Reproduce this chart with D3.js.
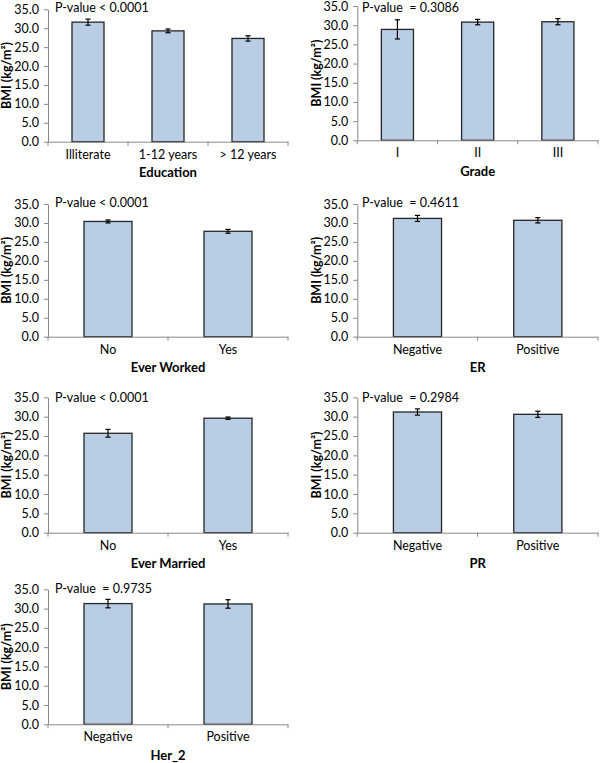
<!DOCTYPE html>
<html><head><meta charset="utf-8">
<script src="https://cdn.jsdelivr.net/npm/d3@7"></script>
<style>body{margin:0;background:#fff}svg{display:block}text{font-family:Lato,"Open Sans",sans-serif;fill:#000}</style>
</head><body>
<script>
// ---- data ----
const titles = ["Education","Grade","Ever Worked","ER","Ever Married","PR","Her_2"];
const pValues = ["P-value < 0.0001","P-value  = 0.3086","P-value < 0.0001","P-value  = 0.4611","P-value < 0.0001","P-value  = 0.2984","P-value  = 0.9735"];
const categories = [
  ["Illiterate","1-12 years","> 12 years"],
  ["I","II","III"],
  ["No","Yes"],
  ["Negative","Positive"],
  ["No","Yes"],
  ["Negative","Positive"],
  ["Negative","Positive"]
];
const means = [
  [31.6,29.3,27.3],
  [28.9,30.8,30.9],
  [30.4,27.8],
  [31.2,30.7],
  [25.7,29.6],
  [31.2,30.6],
  [31.3,31.2]
];
const errors = [
  [0.8,0.5,0.7],
  [2.5,0.7,0.8],
  [0.4,0.5],
  [0.8,0.7],
  [1.0,0.3],
  [0.8,0.8],
  [1.1,1.1]
];
const yTicks = [0,5,10,15,20,25,30,35];
const yTitle = "BMI (kg/m²)";

// ---- layout ----
const layout = [
  {l:48,r:288,t:9.3,b:141.7,px:55,py:12},
  {l:357.3,r:598,t:6,b:140.3,px:362,py:12},
  {l:48,r:288,t:204,b:336.7,px:55,py:207},
  {l:357.3,r:598,t:204,b:336.7,px:362,py:207},
  {l:48,r:288,t:397.3,b:532.7,px:55,py:402},
  {l:357.3,r:598,t:397.3,b:532.7,px:362,py:402},
  {l:48,r:288,t:589.3,b:724.3,px:55,py:593}
];

const svg = d3.select("body").append("svg").attr("width",600).attr("height",763);
const fs = 12.5;

titles.forEach((title,i)=>{
  const L = layout[i];
  const g = svg.append("g");
  const xc = d3.scaleBand().domain(categories[i]).range([L.l,L.r]);
  const y = d3.scaleLinear().domain([0,35]).range([L.b,L.t]);

  // bars
  g.selectAll("rect.bar").data(means[i]).join("rect")
    .attr("x",(d,j)=>xc(categories[i][j])+xc.bandwidth()*0.3)
    .attr("width",xc.bandwidth()*0.4)
    .attr("y",d=>y(d)).attr("height",d=>y(0)-y(d))
    .attr("fill","#b9cde5").attr("stroke","#262626").attr("stroke-width",1.3);

  // error bars
  const eb = g.selectAll("g.eb").data(means[i]).join("g");
  eb.each(function(d,j){
    const cx = xc(categories[i][j])+xc.bandwidth()/2;
    const e = errors[i][j];
    const s = d3.select(this);
    s.append("line").attr("x1",cx).attr("x2",cx).attr("y1",y(d-e)).attr("y2",y(d+e));
    s.append("line").attr("x1",cx-2.6).attr("x2",cx+2.6).attr("y1",y(d-e)).attr("y2",y(d-e));
    s.append("line").attr("x1",cx-2.6).attr("x2",cx+2.6).attr("y1",y(d+e)).attr("y2",y(d+e));
    s.selectAll("line").attr("stroke","#000").attr("stroke-width",1.2);
  });

  // y axis
  const ya = g.append("g").attr("transform",`translate(${L.l},0)`)
    .call(d3.axisLeft(y).tickValues(yTicks).tickFormat(d3.format(".1f")).tickSize(4).tickSizeOuter(0));
  ya.select(".domain").attr("stroke","#888");
  ya.selectAll(".tick line").attr("stroke","#888");
  ya.selectAll(".tick text").attr("x",-9).style("font-size",fs+"px").style("font-family","Lato,sans-serif").attr("fill","#000");

  // x axis
  const xa = g.append("g").attr("transform",`translate(0,${L.b})`)
    .call(d3.axisBottom(xc).tickSize(0).tickSizeOuter(0));
  xa.select(".domain").attr("stroke","#888");
  xa.selectAll(".tick text").attr("y",14).attr("dy",null).attr("dominant-baseline","middle")
    .style("font-size",fs+"px").style("font-family","Lato,sans-serif").attr("fill","#000");
  // category boundary ticks
  const bounds = categories[i].map(c=>xc(c)).concat([L.r]);
  g.selectAll("line.bt").data(bounds).join("line")
    .attr("x1",d=>d).attr("x2",d=>d).attr("y1",L.b).attr("y2",L.b+4)
    .attr("stroke","#888");

  // axis titles
  g.append("text").attr("x",(L.l+L.r)/2).attr("y",L.b+32)
    .attr("text-anchor","middle").attr("dominant-baseline","middle")
    .style("font-size","13px").style("font-weight","bold").text(title);
  const tx = L.l - 40;
  g.append("text").attr("transform",`translate(${tx},${(L.t+L.b)/2}) rotate(-90)`)
    .attr("text-anchor","middle").attr("dominant-baseline","middle")
    .style("font-size","12.5px").style("font-weight","bold").text(yTitle);

  // p-value
  g.append("text").attr("x",L.px).attr("y",L.py)
    .style("font-size",fs+"px").style("white-space","pre").text(pValues[i]);
});
</script>
</body></html>
